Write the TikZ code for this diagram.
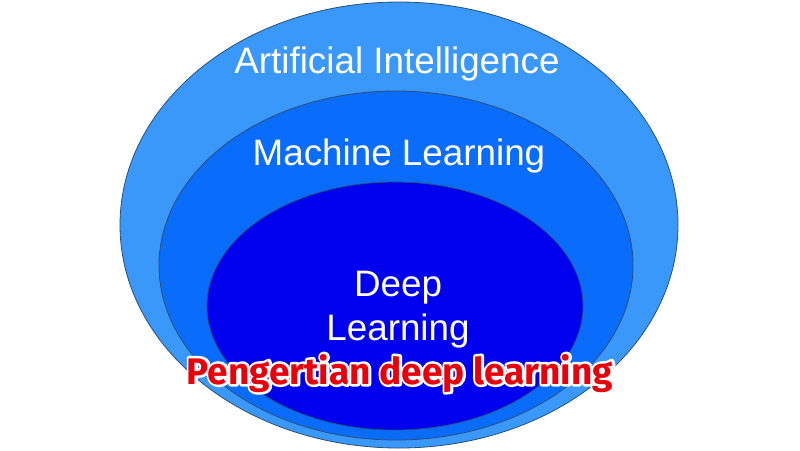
\documentclass[tikz,border=0pt]{standalone}
\usepackage{fontspec}
\setmainfont{Liberation Sans}
\newfontfamily\captionfont{Fira Sans}
\usepackage[dvipsnames]{xcolor}
\usepackage{tikz}
\usetikzlibrary{calc}

\definecolor{aiblue}{RGB}{58,152,250}
\definecolor{mlblue}{RGB}{10,108,250}
\definecolor{dlblue}{RGB}{0,0,238}
\definecolor{rimblue}{RGB}{40,80,120}
\definecolor{capred}{RGB}{232,0,12}

\newcommand{\whiterim}[1]{\special{pdf:code q 1 Tr 5 w 1 j 1 1 1 RG}#1\special{pdf:code Q}}

\begin{document}
\begin{tikzpicture}[x=1pt, y=-1pt,
    layer/.style={draw=rimblue, line width=0.8pt},
    label/.style={text=white, anchor=base, inner sep=0pt, font=\fontsize{36.8}{40}\selectfont},
    capfont/.style={anchor=base, inner sep=0pt, font=\captionfont\bfseries\fontsize{37}{40}\selectfont}]

        \useasboundingbox (0,0) rectangle (800,450);

        \coordinate (O) at (399,225);

        \draw[layer, fill=aiblue] (O) ellipse [x radius=279, y radius=223];

        \draw[layer, fill=mlblue] (396,265.5) ellipse [x radius=237, y radius=174.5];

        \draw[layer, fill=dlblue] (395,306) ellipse [x radius=188, y radius=124];

        \node[label] (ai) at (397,73) {Artificial Intelligence};

        \node[label] (ml) at (399,165) {Machine Learning};

        \node[label] (deep) at (398,296) {Deep};

        \node[label] (learn) at (398,340) {Learning};

        \node[capfont, text=white] (rim) at (400,384) {\whiterim{Pengertian deep learning}};

        \node[capfont, text=capred] (cap) at (400,384) {Pengertian deep learning};

    \end{tikzpicture}
\end{document}
